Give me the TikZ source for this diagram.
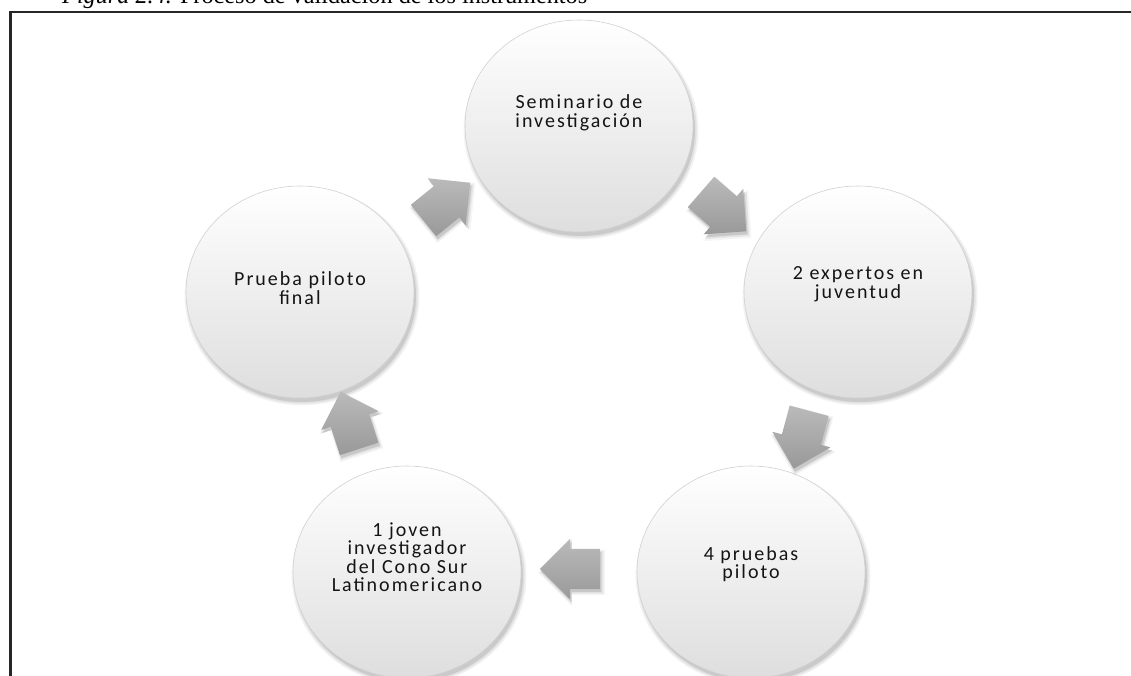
\documentclass[tikz,border=0pt]{standalone}
\usepackage{fontspec}
\usepackage{graphicx}
\setmainfont{Liberation Serif}
\newfontfamily\circfont[LetterSpace=10]{Carlito}
\usetikzlibrary{shapes.geometric,shapes.arrows,shadows}

\tikzset{
  softshadow/.style={
    drop shadow={shadow xshift=2pt,shadow yshift=-4pt,shadow scale=1.000,opacity=.10,fill=black},
    drop shadow={shadow xshift=2pt,shadow yshift=-4pt,shadow scale=1.015,opacity=.07,fill=black},
    drop shadow={shadow xshift=2pt,shadow yshift=-4pt,shadow scale=1.030,opacity=.05,fill=black}},
  arrowshadow/.style={
    drop shadow={shadow xshift=1.5pt,shadow yshift=-3pt,shadow scale=1.00,opacity=.12,fill=black},
    drop shadow={shadow xshift=1.5pt,shadow yshift=-3pt,shadow scale=1.06,opacity=.07,fill=black},
    drop shadow={shadow xshift=1.5pt,shadow yshift=-3pt,shadow scale=1.12,opacity=.04,fill=black}},
  stage/.style={ellipse, minimum width=228pt, minimum height=212pt, inner sep=0pt,
    top color=white, bottom color=black!13, draw=black!18, line width=0.6pt, softshadow},
  stagetext/.style={font=\circfont\fontsize{20}{18.5}\selectfont, align=center, text=black!92, inner sep=0pt},
  flow/.style={single arrow, minimum width=60pt, minimum height=60pt,
    single arrow head extend=10pt, inner xsep=0pt, inner ysep=20pt, draw=none,
    top color=black!27, bottom color=black!40, arrowshadow},
  framerule/.style={line width=2.6pt, draw=black!85},
}

\begin{document}
\begin{tikzpicture}[x=1pt,y=1pt]
  \useasboundingbox (0,0) rectangle (1131,675);

  % caption above the frame
  \node[anchor=base west, inner sep=0pt] (caption) at (62,671)
    {\resizebox{525pt}{!}{\textit{Figura 2.4.} Proceso de validación de los instrumentos}};

  % frame: top and left rules
  \coordinate (fbl) at (10.5,-10);
  \coordinate (ftl) at (10.5,663);
  \coordinate (ftr) at (1145,663);
  \draw[framerule] (fbl) -- (ftl) -- (ftr);

  % the five stages of the cycle
  \node[stage] (T)  at (579,549) {};
  \node[stage] (R)  at (858,383) {};
  \node[stage] (BR) at (751,103) {};
  \node[stage] (BL) at (407,103) {};
  \node[stage] (L)  at (300,383) {};

  \node[stagetext] (Tt)  at ([yshift=13pt]T.center)  {Seminario de\\investigación};
  \node[stagetext] (Rt)  at ([yshift=8pt]R.center)   {2 expertos en\\juventud};
  \node[stagetext] (BRt) at ([yshift=8pt]BR.center)  {4 pruebas\\piloto};
  \node[stagetext] (BLt) at ([yshift=15pt]BL.center) {1 joven\\investigador\\del Cono Sur\\Latinomericano};
  \node[stagetext] (Lt)  at ([yshift=4pt]L.center)   {Prueba piloto\\final};

  % block arrows between the stages
  \node[flow, rotate=39]   (a1) at (439,467) {};
  \node[flow, rotate=-41]  (a2) at (716,470) {};
  \node[flow, rotate=-105] (a3) at (804,245) {};
  \node[flow, rotate=180]  (a4) at (580,106) {};
  \node[flow, rotate=108]  (a5) at (353,245) {};
\end{tikzpicture}
\end{document}
